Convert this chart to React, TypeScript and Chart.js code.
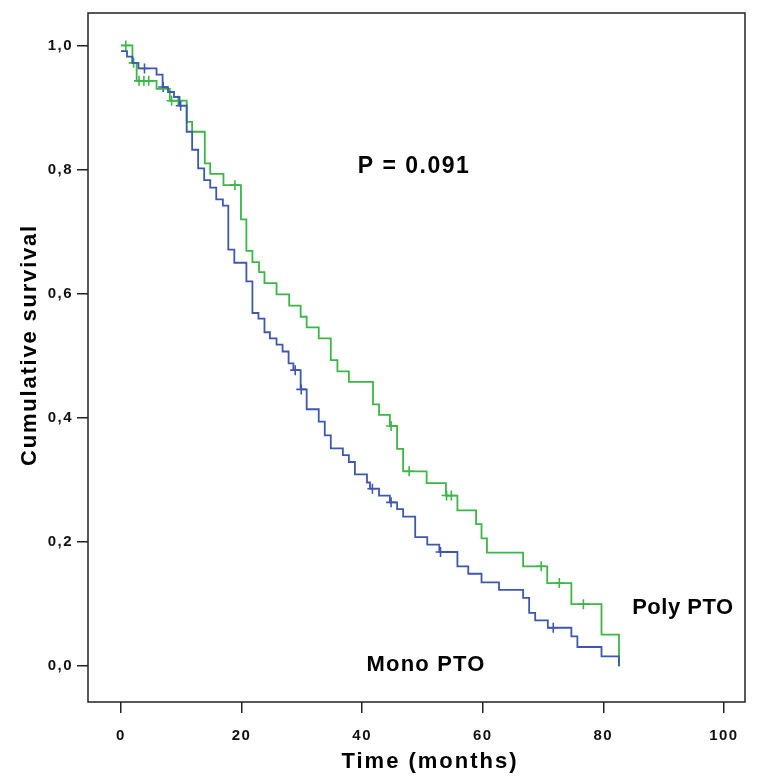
import React, { useEffect, useRef } from 'react';
import { Chart, registerables } from 'chart.js';

Chart.register(...registerables);

// Kaplan-Meier step data: time (months) at which survival drops to the given value
const monoTimes = [0, 1.0, 1.9, 2.9, 5.9, 6.9, 7.8, 8.8, 9.7, 10.9, 11.8, 12.8, 13.8, 14.8, 15.8, 16.9, 17.8, 18.8, 20.8, 21.8, 22.8, 23.8, 24.7, 25.8, 26.8, 27.8, 28.6, 29.8, 30.8, 32.8, 33.8, 34.8, 36.8, 37.8, 38.8, 40.8, 41.3, 42.8, 44.6, 45.8, 46.8, 48.8, 50.8, 52.8, 55.8, 57.6, 59.8, 62.7, 66.7, 67.7, 68.7, 70.8, 74.7, 75.7, 79.7, 82.6];
const monoSurvival = [0.991, 0.982, 0.972, 0.963, 0.953, 0.933, 0.925, 0.917, 0.903, 0.861, 0.832, 0.802, 0.783, 0.771, 0.752, 0.742, 0.671, 0.650, 0.620, 0.569, 0.560, 0.538, 0.528, 0.518, 0.507, 0.488, 0.477, 0.446, 0.414, 0.394, 0.372, 0.351, 0.340, 0.329, 0.309, 0.296, 0.286, 0.275, 0.264, 0.253, 0.241, 0.208, 0.196, 0.184, 0.161, 0.149, 0.135, 0.123, 0.110, 0.086, 0.074, 0.062, 0.048, 0.031, 0.016, 0.0];
const monoCensored = [3.9, 7.0, 9.9, 28.9, 29.9, 41.7, 44.8, 53.0, 71.7];

const polyTimes = [0, 1.9, 2.6, 5.9, 8.1, 10.9, 11.8, 13.9, 14.8, 17.0, 19.9, 20.8, 21.8, 22.9, 23.8, 25.8, 27.9, 29.8, 30.8, 32.8, 34.8, 35.9, 37.8, 41.8, 42.8, 44.6, 45.8, 46.8, 50.7, 53.9, 55.8, 58.9, 59.8, 60.7, 66.7, 70.7, 74.7, 79.7, 82.6];
const polySurvival = [1.0, 0.972, 0.943, 0.930, 0.911, 0.877, 0.861, 0.810, 0.793, 0.775, 0.720, 0.669, 0.651, 0.635, 0.617, 0.599, 0.581, 0.563, 0.546, 0.528, 0.493, 0.475, 0.458, 0.422, 0.405, 0.387, 0.350, 0.314, 0.295, 0.275, 0.251, 0.229, 0.206, 0.183, 0.161, 0.134, 0.100, 0.051, 0.0];
const polyCensored = [0.8, 2.1, 3.0, 3.8, 4.6, 8.4, 9.5, 18.9, 44.8, 47.8, 54.0, 54.8, 69.7, 72.7, 76.7];

const xTicks = [0, 20, 40, 60, 80, 100];
const yTicks = [0, 0.2, 0.4, 0.6, 0.8, 1.0];

const BLUE = '#3E58AC';
const GREEN = '#3DB548';
const FONT = '"Liberation Sans", Arial, sans-serif';

function stepValue(times: number[], vals: number[], t: number) {
  let v = vals[0];
  for (let i = 0; i < times.length; i++) if (times[i] <= t) v = vals[i];
  return v;
}

const textPlugin = {
  id: 'frameAndText',
  beforeDraw(chart: any) {
    chart.ctx.letterSpacing = '1.5px';
  },
  afterDraw(chart: any) {
    const { ctx, chartArea, scales } = chart;
    const { left, top, right, bottom } = chartArea;
    const x = scales.x;
    const y = scales.y;
    ctx.save();
    ctx.strokeStyle = '#222';
    ctx.lineWidth = 1.5;
    ctx.strokeRect(left, top, right - left, bottom - top);

    ctx.fillStyle = '#000';
    ctx.textAlign = 'center';
    ctx.textBaseline = 'middle';
    ctx.letterSpacing = '1.5px';
    ctx.font = `bold 23px ${FONT}`;
    ctx.fillText('P = 0.091', x.getPixelForValue(48.6), y.getPixelForValue(0.805));
    ctx.font = `bold 22px ${FONT}`;
    ctx.letterSpacing = '0.5px';
    ctx.fillText('Poly PTO', x.getPixelForValue(93.2), y.getPixelForValue(0.094));
    ctx.letterSpacing = '1.2px';
    ctx.fillText('Mono PTO', x.getPixelForValue(50.6), y.getPixelForValue(0.002));

    ctx.font = `bold 22px ${FONT}`;
    ctx.letterSpacing = '2px';
    ctx.fillText('Time (months)', 430, 762);
    ctx.translate(30, 345);
    ctx.rotate(-Math.PI / 2);
    ctx.font = `bold 22px ${FONT}`;
    ctx.letterSpacing = '1.8px';
    ctx.fillText('Cumulative survival', 0, 0);
    ctx.restore();
  },
};

export default function App() {
  const ref = useRef<HTMLCanvasElement | null>(null);
  useEffect(() => {
    if (!ref.current) return;
    const mono = monoTimes.map((t, i) => ({ x: t, y: monoSurvival[i] }));
    const poly = polyTimes.map((t, i) => ({ x: t, y: polySurvival[i] }));
    const monoC = monoCensored.map((t) => ({ x: t, y: stepValue(monoTimes, monoSurvival, t) }));
    const polyC = polyCensored.map((t) => ({ x: t, y: stepValue(polyTimes, polySurvival, t) }));
    const chart = new Chart(ref.current, {
      type: 'line',
      data: {
        datasets: [
          { label: 'Mono PTO', data: mono, borderColor: BLUE, borderWidth: 1.8, stepped: true, pointRadius: 0, fill: false },
          { label: 'Poly PTO', data: poly, borderColor: GREEN, borderWidth: 1.8, stepped: true, pointRadius: 0, fill: false },
          { label: 'Mono censored', data: monoC, showLine: false, pointStyle: 'cross', pointRadius: 5, borderColor: BLUE, borderWidth: 1.6 },
          { label: 'Poly censored', data: polyC, showLine: false, pointStyle: 'cross', pointRadius: 5, borderColor: GREEN, borderWidth: 1.6 },
        ],
      },
      options: {
        animation: false,
        responsive: false,
        devicePixelRatio: 1,
        layout: { padding: { top: 8, right: 18, left: 0, bottom: 0 } },
        plugins: { legend: { display: false }, tooltip: { enabled: false } },
        scales: {
          x: {
            type: 'linear',
            min: -5.47,
            max: 103.5,
            afterFit: (s: any) => { s.height = 78; },
            afterBuildTicks: (s: any) => { s.ticks = xTicks.map((v) => ({ value: v })); },
            border: { display: false },
            grid: { drawOnChartArea: false, drawTicks: true, tickLength: 11, color: '#222', lineWidth: 1.5 },
            ticks: { color: '#111', padding: 14, font: { family: FONT, size: 15, weight: 'bold' }, callback: (v: any) => String(v) },
          },
          y: {
            type: 'linear',
            min: -0.0576,
            max: 1.0523,
            afterFit: (s: any) => { s.width = 88; },
            afterBuildTicks: (s: any) => { s.ticks = yTicks.map((v) => ({ value: v })); },
            border: { display: false },
            grid: { drawOnChartArea: false, drawTicks: true, tickLength: 11, color: '#222', lineWidth: 1.5 },
            ticks: { color: '#111', padding: 4, font: { family: FONT, size: 15, weight: 'bold' }, callback: (v: any) => Number(v).toFixed(1).replace('.', ',') },
          },
        },
      },
      plugins: [textPlugin],
    } as any);
    return () => chart.destroy();
  }, []);
  return (
    <div style={{ position: 'absolute', left: 0, top: 0, width: 763, height: 780, background: '#fff' }}>
      <canvas ref={ref} width={763} height={780} />
    </div>
  );
}
